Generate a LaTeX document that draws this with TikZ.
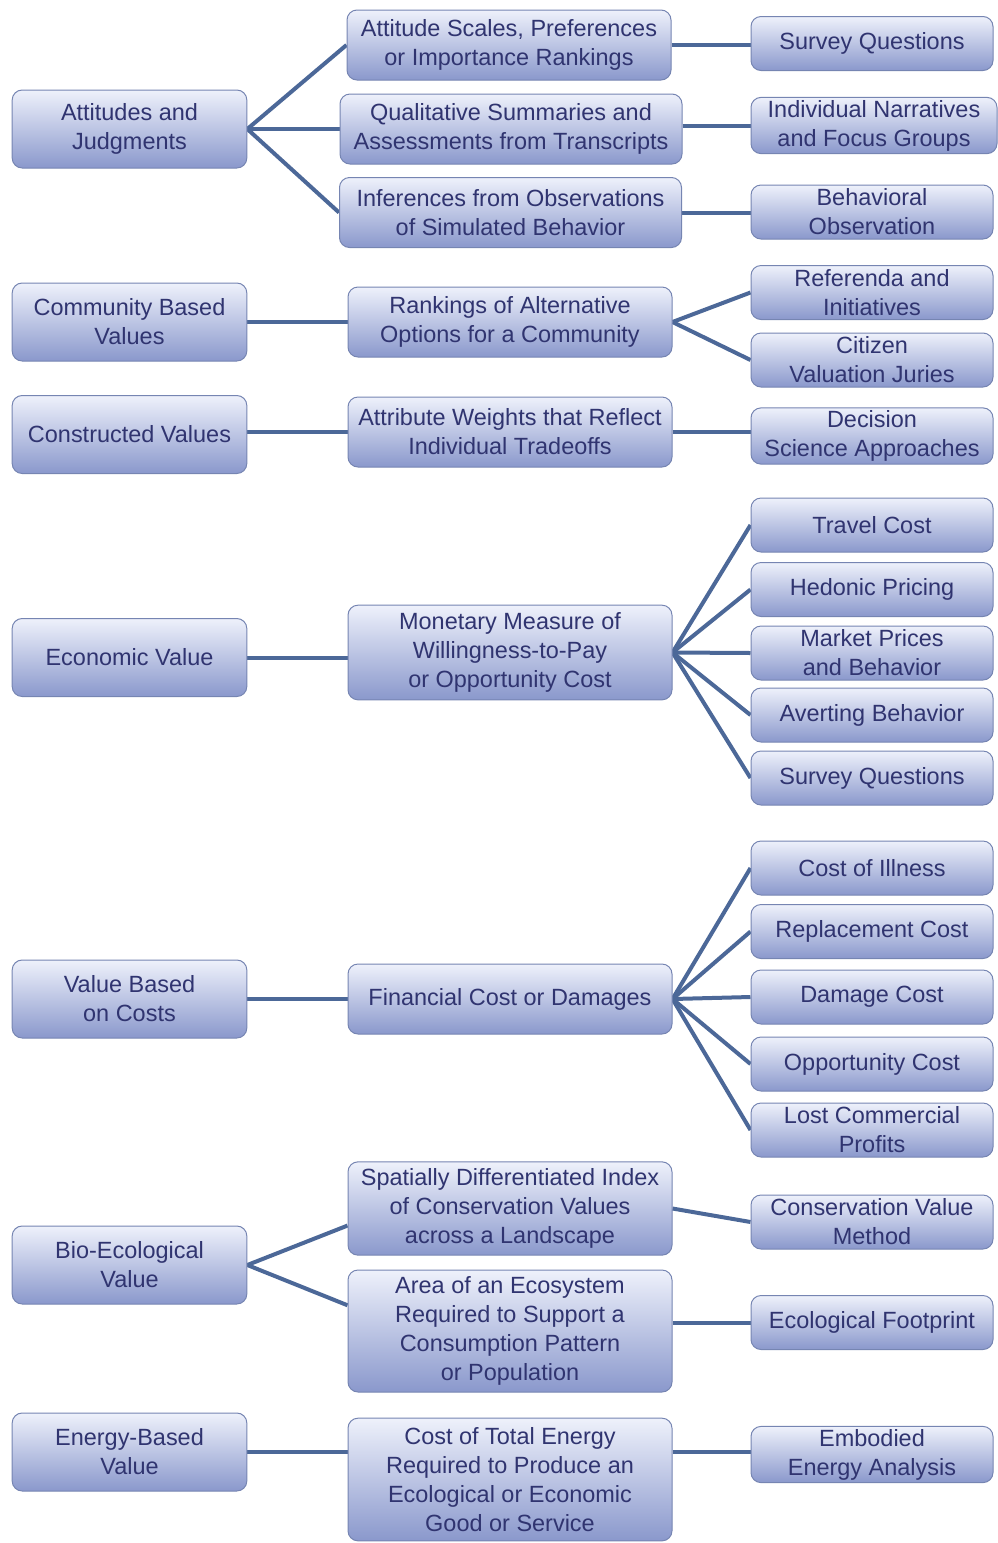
\documentclass[tikz,border=0pt]{standalone}
\usepackage{fontspec}
\setmainfont{Liberation Sans}
\usetikzlibrary{backgrounds}
\definecolor{boxtop}{RGB}{238,241,251}
\definecolor{boxbot}{RGB}{138,152,204}
\definecolor{boxline}{RGB}{118,133,178}
\definecolor{boxtext}{RGB}{48,52,112}
\definecolor{linkline}{RGB}{76,104,152}

\tikzset{
  box/.style={draw=boxline, line width=0.75, rounded corners=7.5pt,
    top color=boxtop, bottom color=boxbot, text=boxtext, align=center,
    font=\fontsize{17.6}{21.75}\selectfont, inner xsep=3pt, inner ysep=2pt},
  lvlone/.style={box, minimum width=176pt, minimum height=58.5pt},
  lvltwo/.style={box, minimum width=243pt, minimum height=52.5pt},
  lvlwide/.style={box, minimum width=256.5pt, minimum height=52.5pt},
  lvlthree/.style={box, minimum width=181.5pt, minimum height=40.5pt},
  link/.style={draw=linkline, line width=3pt}
}

\begin{document}
\begin{tikzpicture}[x=0.75pt,y=0.75pt,yscale=-1,xscale=1]
\useasboundingbox (0,0) rectangle (997,1543);

% Column one
\node[lvlone] (att) at (129.5,129) {Attitudes and\\Judgments};
\node[lvlone] (com) at (129.5,322) {Community Based\\Values};
\node[lvlone] (con) at (129.5,434.5) {Constructed Values};
\node[lvlone] (eco) at (129.5,657.5) {Economic Value};
\node[lvlone] (cost) at (129.5,999) {Value Based\\on Costs};
\node[lvlone] (bio) at (129.5,1265) {Bio-Ecological\\Value};
\node[lvlone] (ener) at (129.5,1452) {Energy-Based\\Value};

% Column two
\node[lvltwo] (scal) at (509,45) {Attitude Scales, Preferences\\or Importance Rankings};
\node[lvlwide] (qual) at (511,129) {Qualitative Summaries and\\Assessments from Transcripts};
\node[lvlwide] (infer) at (510.5,212.5) {Inferences from Observations\\of Simulated Behavior};
\node[lvltwo] (rank) at (510,322) {Rankings of Alternative\\Options for a Community};
\node[lvltwo] (weight) at (510,432) {Attribute Weights that Reflect\\Individual Tradeoffs};
\node[lvltwo, minimum height=71pt] (money) at (510,652.5) {Monetary Measure of\\Willingness-to-Pay\\or Opportunity Cost};
\node[lvltwo] (fin) at (510,999) {Financial Cost or Damages};
\node[lvltwo, minimum height=70pt] (spat) at (510,1208.5) {Spatially Differentiated Index\\of Conservation Values\\across a Landscape};
\node[lvltwo, minimum height=91.5pt] (area) at (510,1331) {Area of an Ecosystem\\Required to Support a\\Consumption Pattern\\or Population};
\node[lvltwo, minimum height=92pt] (tote) at (510,1479.5) {Cost of Total Energy\\Required to Produce an\\Ecological or Economic\\Good or Service};

% Column three
\node[lvlthree] (sqone) at (872,43.5) {Survey Questions};
\node[lvlthree, minimum width=184.5pt] (narr) at (874,125.5) {Individual Narratives\\and Focus Groups};
\node[lvlthree] (behav) at (872,212) {Behavioral\\Observation};
\node[lvlthree] (refer) at (872,292.5) {Referenda and\\Initiatives};
\node[lvlthree] (jury) at (872,360) {Citizen\\Valuation Juries};
\node[lvlthree] (deci) at (872,436) {Decision\\Science Approaches};
\node[lvlthree] (travel) at (872,525) {Travel Cost};
\node[lvlthree] (hedo) at (872,589.5) {Hedonic Pricing};
\node[lvlthree] (market) at (872,653) {Market Prices\\and Behavior};
\node[lvlthree] (avert) at (872,715) {Averting Behavior};
\node[lvlthree] (sqtwo) at (872,778) {Survey Questions};
\node[lvlthree] (ill) at (872,868) {Cost of Illness};
\node[lvlthree] (repl) at (872,931.5) {Replacement Cost};
\node[lvlthree] (dama) at (872,997) {Damage Cost};
\node[lvlthree] (oppo) at (872,1064) {Opportunity Cost};
\node[lvlthree] (lost) at (872,1130) {Lost Commercial\\Profits};
\node[lvlthree] (cvm) at (872,1222) {Conservation Value\\Method};
\node[lvlthree] (foot) at (872,1322.5) {Ecological Footprint};
\node[lvlthree] (embo) at (872,1454.5) {Embodied\\Energy Analysis};

\begin{scope}[on background layer]
%Straight Lines
\draw[link] (att.east) -- (scal.west);
\draw[link] (att.east) -- (qual.west);
\draw[link] (att.east) -- (infer.west);
\draw[link] (scal.east) -- (scal.east -| sqone.west);
\draw[link] (qual.east |- narr.west) -- (narr.west);
\draw[link] (infer.east) -- (infer.east -| behav.west);
%Straight Lines
\draw[link] (com.east) -- (rank.west);
\draw[link] (rank.east) -- (refer.west);
\draw[link] (rank.east) -- (jury.west);
\draw[link] (con.east |- weight.west) -- (weight.west);
\draw[link] (weight.east) -- (weight.east -| deci.west);
%Straight Lines
\draw[link] (eco.east) -- (eco.east -| money.west);
\draw[link] (money.east) -- (travel.west);
\draw[link] (money.east) -- (hedo.west);
\draw[link] (money.east) -- (market.west);
\draw[link] (money.east) -- (avert.west);
\draw[link] (money.east) -- (sqtwo.west);
%Straight Lines
\draw[link] (cost.east) -- (fin.west);
\draw[link] (fin.east) -- (ill.west);
\draw[link] (fin.east) -- (repl.west);
\draw[link] (fin.east) -- (dama.west);
\draw[link] (fin.east) -- (oppo.west);
\draw[link] (fin.east) -- (lost.west);
%Straight Lines
\draw[link] (bio.east) -- (spat.186);
\draw[link] (bio.east) -- (area.171.6);
\draw[link] (spat.east) -- (cvm.west);
\draw[link] (area.east |- foot.west) -- (foot.west);
\draw[link] (ener.east) -- (ener.east -| tote.west);
\draw[link] (tote.east |- ener.east) -- (embo.west |- ener.east);
\end{scope}

\end{tikzpicture}
\end{document}
